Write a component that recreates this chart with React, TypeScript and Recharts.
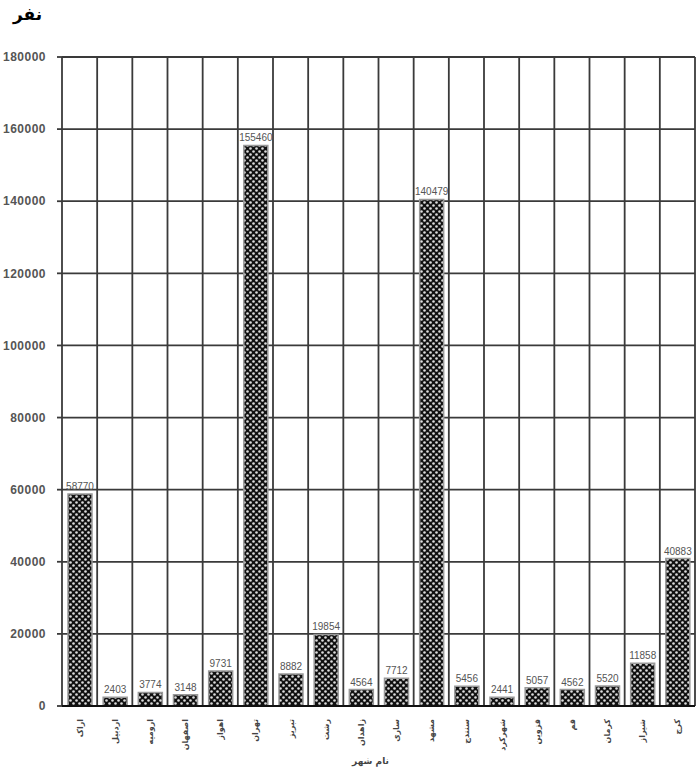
import React from "react";
import { BarChart, Bar, XAxis, YAxis, CartesianGrid, LabelList, Label } from "recharts";

const cities = [
  "اراک", "اردبیل", "ارومیه", "اصفهان", "اهواز", "تهران", "تبریز", "رشت", "زاهدان",
  "ساری", "مشهد", "سنندج", "شهرکرد", "قزوین", "قم", "کرمان", "شیراز", "کرج",
];
const people = [
  58770, 2403, 3774, 3148, 9731, 155460, 8882, 19854, 4564,
  7712, 140479, 5456, 2441, 5057, 4562, 5520, 11858, 40883,
];
const yTicks = [0, 20000, 40000, 60000, 80000, 100000, 120000, 140000, 160000, 180000];

const data = cities.map((city, i) => ({ city, people: people[i] }));

const CityTick = (props: any) => {
  const { x, y, payload } = props;
  return (
    <text
      x={x}
      y={y}
      transform={`rotate(-90 ${x} ${y})`}
      dx={-5}
      dy={3}
      textAnchor="end"
      fontSize={8}
      fontWeight="bold"
      fontFamily="DejaVu Sans"
      fill="#444"
    >
      {payload.value}
    </text>
  );
};

const gridColumns = ({ offset }: any) => {
  const out: number[] = [];
  for (let i = 0; i <= cities.length; i++) out.push(offset.left + (i * offset.width) / cities.length);
  return out;
};

export default function App() {
  return (
    <div style={{ position: "absolute", left: 0, top: 0, width: 699, height: 770, background: "#fff" }}>
      <div
        style={{
          position: "absolute",
          left: 13,
          top: 4,
          fontFamily: "DejaVu Sans",
          fontWeight: "bold",
          fontSize: 17,
          color: "#000",
        }}
      >
        نفر
      </div>
      <BarChart width={699} height={770} data={data} margin={{ top: 57, right: 4, bottom: 0, left: 0 }}>
        <defs>
          <pattern id="dots" width="6" height="6" patternUnits="userSpaceOnUse">
            <rect width="6" height="6" fill="#111" />
            <circle cx="1.5" cy="1.5" r="1.3" fill="#ddd" />
            <circle cx="4.5" cy="4.5" r="1.3" fill="#ddd" />
          </pattern>
        </defs>
        <CartesianGrid
          stroke="#3a3a3a"
          strokeWidth={1.8}
          verticalCoordinatesGenerator={gridColumns}
        />
        <XAxis
          dataKey="city"
          height={64}
          interval={0}
          tick={<CityTick />}
          tickLine={false}
          axisLine={{ stroke: "#111", strokeWidth: 2 }}
        >
          <Label
            value="نام شهر"
            position="insideBottom"
            offset={6}
            dx={-8}
            style={{ fontFamily: "DejaVu Sans", fontSize: 9, fontWeight: "bold", fill: "#444" }}
          />
        </XAxis>
        <YAxis
          width={62}
          domain={[0, 180000]}
          ticks={yTicks}
          interval={0}
          tickSize={5}
          tickMargin={11}
          axisLine={false}
          tickLine={{ stroke: "#3a3a3a", strokeWidth: 1.8 }}
          tick={{ fontSize: 12, fontWeight: "bold", fill: "#555", fontFamily: "Liberation Sans", letterSpacing: 0.5 }}
        />
        <Bar dataKey="people" barSize={24} fill="url(#dots)" stroke="#999" strokeWidth={1.5} isAnimationActive={false}>
          <LabelList
            dataKey="people"
            position="top"
            offset={4}
            style={{ fontSize: 10, fill: "#555", fontFamily: "Liberation Sans" }}
          />
        </Bar>
      </BarChart>
    </div>
  );
}
